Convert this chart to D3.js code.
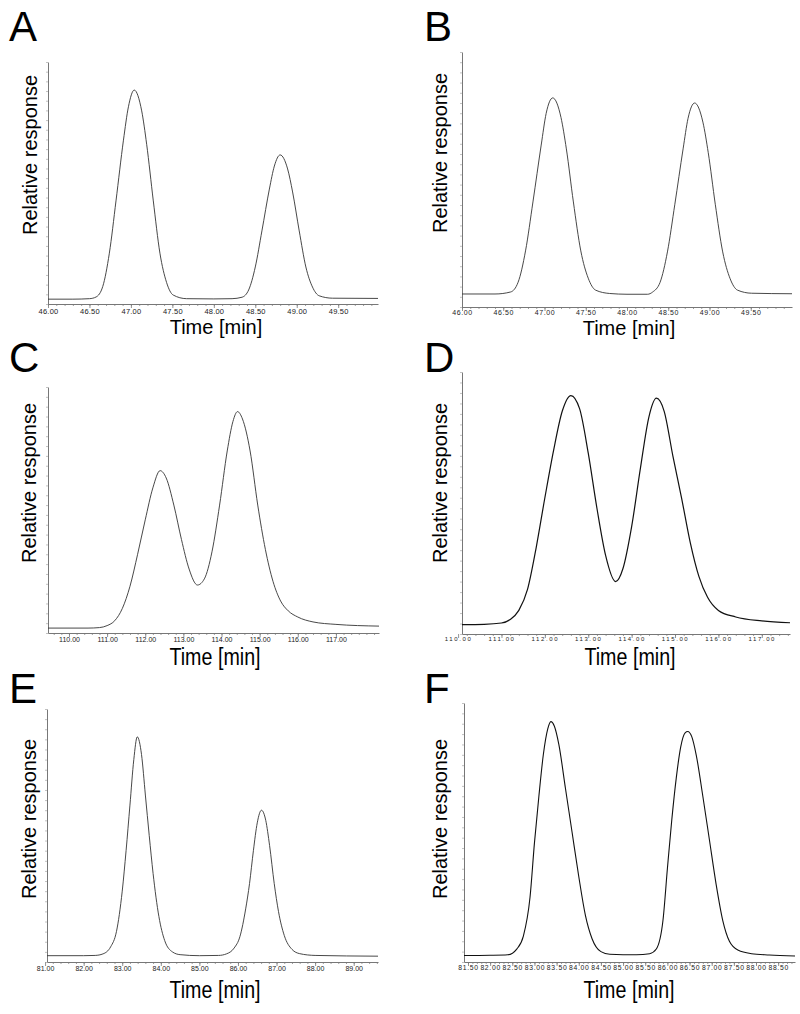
<!DOCTYPE html>
<html>
<head>
<meta charset="utf-8">
<script src="https://cdn.jsdelivr.net/npm/d3@7"></script>
<style>
  body { margin: 0; background: #fff; }
  svg { display: block; font-family: "Liberation Sans", Arial, sans-serif; }
</style>
</head>
<body>
<svg id="fig" width="800" height="1014"></svg>
<script>
// chromatogram traces (time in min, response in % of axis height)
const timeA = [46.00, 46.30, 46.50, 46.58, 46.66, 46.74, 46.82, 46.91, 46.97, 47.04, 47.13, 47.19, 47.27, 47.35, 47.43, 47.51, 47.67, 48.00, 48.22, 48.34, 48.42, 48.50, 48.58, 48.67, 48.73, 48.80, 48.89, 48.95, 49.03, 49.11, 49.19, 49.27, 49.43, 49.98];
const respA = [2.0, 2.0, 2.2, 2.9, 7.2, 21, 42.6, 67.7, 81.5, 88.4, 79.8, 66, 42.6, 21, 8.9, 3.7, 2.2, 2.1, 2.2, 2.8, 5.8, 15.3, 30.2, 47.5, 57, 61.6, 55.8, 46.3, 30.2, 15.3, 7, 3.4, 2.4, 2.3];

const timeB = [46.00, 46.40, 46.59, 46.68, 46.77, 46.86, 46.96, 47.02, 47.10, 47.20, 47.265, 47.35, 47.44, 47.53, 47.62, 47.79, 48.00, 48.25, 48.31, 48.40, 48.49, 48.58, 48.68, 48.74, 48.82, 48.92, 48.985, 49.07, 49.16, 49.25, 49.34, 49.51, 50.00];
const respB = [5.1, 5.1, 5.9, 9.7, 22, 41.2, 63.5, 75.9, 82, 74.3, 62, 41.2, 22, 11.3, 6.6, 5.3, 5.0, 5.0, 5.85, 9.6, 21.6, 40.3, 62, 74, 80, 72.5, 60.5, 40.3, 21.6, 11.1, 6.6, 5.4, 5.2];

const timeC = [109.45, 110.00, 110.50, 110.80, 111.00, 111.20, 111.40, 111.60, 111.80, 112.00, 112.20, 112.39, 112.55, 112.75, 112.95, 113.15, 113.37, 113.55, 113.75, 113.95, 114.15, 114.30, 114.42, 114.55, 114.75, 114.95, 115.15, 115.35, 115.55, 115.75, 116.00, 116.40, 117.00, 118.13];
const respC = [2.0, 2.0, 2.0, 2.2, 3.0, 5.0, 10, 19, 32, 46, 59, 66, 63, 52, 38, 26, 19.5, 22, 33, 52, 74, 86, 90, 87, 74, 52, 34, 21, 13, 9, 6.5, 4.5, 3.5, 2.8];

const timeD = [110.09, 110.60, 111.00, 111.20, 111.40, 111.60, 111.80, 112.00, 112.20, 112.40, 112.60, 112.80, 113.00, 113.20, 113.40, 113.63, 113.80, 114.00, 114.20, 114.40, 114.57, 114.75, 114.95, 115.15, 115.35, 115.55, 115.75, 116.00, 116.40, 117.00, 117.65];
const respD = [3.6, 3.7, 4.2, 5.5, 9, 17, 33, 52, 70, 85, 91, 86, 69, 48, 30, 20, 25, 41, 63, 83, 90, 85, 68, 52, 35, 22, 14, 9, 6.5, 5, 4.3];

const timeE = [81.05, 82.00, 82.30, 82.50, 82.70, 82.85, 83.00, 83.10, 83.20, 83.30, 83.39, 83.50, 83.60, 83.70, 83.80, 83.95, 84.10, 84.30, 84.50, 85.00, 85.50, 85.70, 85.90, 86.05, 86.20, 86.30, 86.40, 86.50, 86.61, 86.72, 86.82, 86.94, 87.05, 87.20, 87.40, 87.60, 88.00, 89.63];
const respE = [2.5, 2.5, 2.6, 3.2, 6, 12, 28, 44, 62, 80, 89, 82, 66, 50, 35, 18, 8.5, 4, 2.9, 2.5, 2.6, 3.2, 5.5, 10, 21, 31, 44, 55, 60, 56, 46, 31, 20, 10.5, 5, 3.3, 2.6, 2.3];

const timeF = [81.41, 82.00, 82.40, 82.60, 82.75, 82.90, 83.00, 83.10, 83.20, 83.30, 83.37, 83.45, 83.55, 83.70, 83.85, 84.00, 84.15, 84.30, 84.50, 84.70, 85.30, 85.60, 85.75, 85.90, 86.00, 86.10, 86.20, 86.30, 86.40, 86.46, 86.55, 86.65, 86.80, 86.95, 87.10, 87.25, 87.40, 87.60, 87.90, 88.30, 88.88];
const respF = [2.5, 2.6, 2.8, 5, 10, 25, 46, 64, 80, 90, 92.8, 91, 84, 67, 50, 33, 18, 9, 4, 3, 2.8, 3.2, 5, 16, 36, 55, 71, 83, 88.5, 89, 87, 80, 64, 47, 30, 16, 8, 4.5, 3.2, 2.7, 2.3];

// tick labels
const ticksAB = [46.0, 46.5, 47.0, 47.5, 48.0, 48.5, 49.0, 49.5];
const ticksCD = [110, 111, 112, 113, 114, 115, 116, 117];
const ticksE = [81, 82, 83, 84, 85, 86, 87, 88, 89];
const ticksF = [81.5, 82, 82.5, 83, 83.5, 84, 84.5, 85, 85.5, 86, 86.5, 87, 87.5, 88, 88.5];

const panels = [
    {name: "A", time: timeA, resp: respA, ticks: ticksAB, dom: [46, 49.98], box: [48, 378, 62, 304],
     letter: [9, 41], yLab: [37, 155], xLab: [216, 334], tickY: 314, minor: 0.1, tickFont: 7.5, spacing: 0.2, narrow: false, line: "#333", lw: 0.9},
    {name: "B", time: timeB, resp: respB, ticks: ticksAB, dom: [46, 50.0], box: [462, 792, 52, 307],
     letter: [424, 41], yLab: [447, 153], xLab: [629, 335], tickY: 315, minor: 0.1, tickFont: 7, spacing: 0.6, narrow: false, line: "#333", lw: 0.9},
    {name: "C", time: timeC, resp: respC, ticks: ticksCD, dom: [109.45, 118.13], box: [48, 379, 387, 633],
     letter: [9, 372], yLab: [36, 483], xLab: [215, 665], tickY: 642, minor: 0.2, tickFont: 7, spacing: 0, narrow: true, line: "#333", lw: 0.9},
    {name: "D", time: timeD, resp: respD, ticks: ticksCD, dom: [110.09, 117.65], box: [462, 790, 372, 634],
     letter: [424, 372], yLab: [447, 483], xLab: [630, 665], tickY: 641, minor: 0.2, tickFont: 6, spacing: 1.6, narrow: true, line: "#111", lw: 1.2},
    {name: "E", time: timeE, resp: respE, ticks: ticksE, dom: [81.05, 89.63], box: [47, 378, 709, 962],
     letter: [9, 703], yLab: [36, 819], xLab: [215, 998], tickY: 971, minor: 0.2, tickFont: 7, spacing: 0, narrow: true, line: "#333", lw: 0.9},
    {name: "F", time: timeF, resp: respF, ticks: ticksF, dom: [81.41, 88.88], box: [464, 795, 703, 962],
     letter: [424, 703], yLab: [447, 819], xLab: [629, 998], tickY: 970, minor: 0.1, tickFont: 6.8, spacing: 0.7, narrow: true, line: "#111", lw: 1.1}
];

const svg = d3.select("#fig");
const fmt = d3.format(".2f");

panels.forEach(p => {
    const [left, right, top, bottom] = p.box;
    const x = d3.scaleLinear().domain(p.dom).range([left, right]);
    const y = d3.scaleLinear().domain([0, 100]).range([bottom, top]);
    const g = svg.append("g").attr("class", "panel-" + p.name);

    // minor x ticks
    const minorVals = d3.range(Math.ceil(p.dom[0] / p.minor) * p.minor, p.dom[1], p.minor);
    g.append("g")
        .attr("transform", `translate(0,${bottom})`)
        .call(d3.axisBottom(x).tickValues(minorVals).tickSize(2).tickFormat(""))
        .call(a => a.select(".domain").remove())
        .selectAll("line").attr("stroke", "#777").attr("stroke-width", 0.7);

    // major x ticks + labels
    const xa = g.append("g")
        .attr("transform", `translate(0,${bottom})`)
        .call(d3.axisBottom(x).tickValues(p.ticks).tickFormat(fmt).tickSize(4).tickSizeOuter(0));
    xa.select(".domain").attr("stroke", "#777").attr("stroke-width", 1);
    xa.selectAll(".tick line").attr("stroke", "#777").attr("stroke-width", 0.8);
    xa.selectAll(".tick text")
        .attr("y", p.tickY - bottom)
        .attr("dy", 0)
        .attr("fill", "#222")
        .style("font-size", p.tickFont + "px")
        .style("letter-spacing", p.spacing + "px")
        .style("font-family", "'Liberation Sans', Arial, sans-serif");

    // y axis with small unlabeled ticks
    const ya = g.append("g")
        .attr("transform", `translate(${left},0)`)
        .call(d3.axisLeft(y).tickValues(d3.range(0, 101, 4)).tickSize(2).tickFormat("").tickSizeOuter(0));
    ya.select(".domain").attr("stroke", "#777").attr("stroke-width", 1);
    ya.selectAll(".tick line").attr("stroke", "#999").attr("stroke-width", 0.6);

    // trace
    const line = d3.line()
        .x((d, i) => x(p.time[i]))
        .y(d => y(d))
        .curve(d3.curveMonotoneX);
    g.append("path")
        .datum(p.resp)
        .attr("d", line)
        .attr("fill", "none")
        .attr("stroke", p.line)
        .attr("stroke-width", p.lw);

    // panel letter
    g.append("text")
        .attr("x", p.letter[0])
        .attr("y", p.letter[1])
        .style("font-size", "42px")
        .attr("fill", "#000")
        .text(p.name);

    // y label
    g.append("text")
        .attr("transform", `translate(${p.yLab[0]},${p.yLab[1]}) rotate(-90)`)
        .attr("text-anchor", "middle")
        .style("font-size", "20px")
        .attr("fill", "#000")
        .text("Relative response");

    // x label
    g.append("text")
        .attr("transform", p.narrow
            ? `translate(${p.xLab[0]},${p.xLab[1]}) scale(0.82,1)`
            : `translate(${p.xLab[0]},${p.xLab[1]})`)
        .attr("text-anchor", "middle")
        .style("font-size", p.narrow ? "24px" : "20px")
        .attr("fill", "#000")
        .text("Time [min]");
});
</script>
</body>
</html>
